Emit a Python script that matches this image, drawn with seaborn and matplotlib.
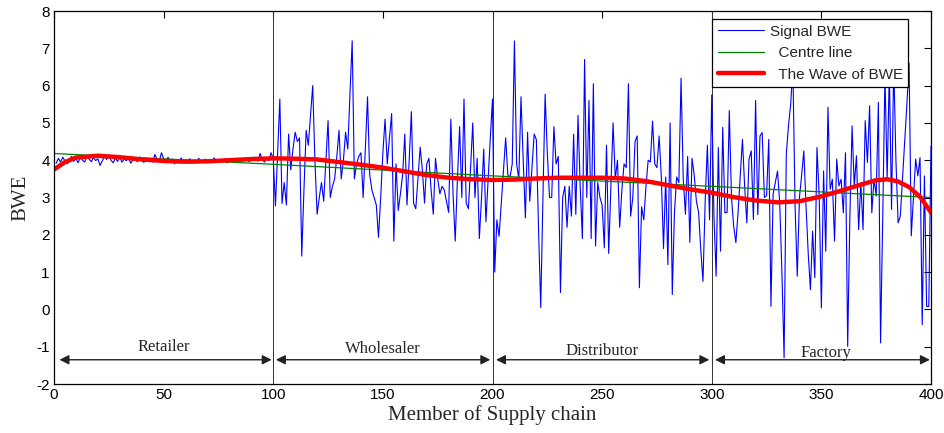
import numpy as np
import pandas as pd
import matplotlib
matplotlib.use("Agg")
import matplotlib.pyplot as plt
import seaborn as sns

# ---------------- data ----------------
sig_retailer = [3.92,4.05,3.95,4.08,3.98,3.90,4.02,4.10,3.97,4.05,
                3.93,4.08,4.00,3.95,4.12,4.03,3.96,4.07,3.99,4.04,
                3.86,3.98,4.10,4.02,4.15,4.00,3.93,4.05,3.97,4.08,
                3.95,4.03,3.99,4.06,3.92,4.01,4.04,3.96,4.09,4.00,
                3.94,4.05,3.98,4.02,3.95,4.15,4.03,3.97,4.20,4.05,
                3.93,4.08,3.98,4.03,3.90,4.02,3.97,4.06,3.95,4.01,
                3.99,4.04,3.92,4.00,3.96,4.05,3.98,3.94,4.03,3.97,
                4.00,3.93,4.06,3.99,3.95,4.02,3.97,4.04,3.93,3.99,
                4.03,3.96,4.00,4.05,3.94,4.02,3.98,4.07,3.96,4.03,
                4.00,4.08,3.97,4.18,4.02,3.95,4.05,3.99,4.20,4.05]
sig_wholesaler = [2.77,4.2,5.64,2.84,3.4,2.8,4.7,3.74,4.3,4.75,
                  4.5,4.6,1.43,3.2,4.8,4.4,5.2,6.0,4.0,2.55,
                  3.0,3.4,2.9,4.0,5.06,3.0,3.3,3.5,4.1,4.8,
                  3.5,4.0,4.75,4.3,5.8,7.2,3.5,3.9,4.1,4.2,
                  3.0,4.3,5.7,3.6,3.2,3.0,2.8,1.93,3.0,4.2,
                  5.1,3.9,4.6,5.25,1.83,3.9,2.65,3.1,3.6,4.7,
                  2.8,4.0,5.3,2.85,2.7,3.5,4.35,3.75,2.85,3.9,
                  4.05,3.2,2.55,4.05,3.5,3.1,3.3,3.2,2.9,2.6,
                  5.1,3.1,1.83,3.5,4.9,3.0,5.64,2.85,2.7,3.8,
                  5.0,3.0,4.05,1.9,3.0,4.3,2.35,3.5,4.6,5.64]
sig_distributor = [1.0,2.4,1.96,2.85,3.7,4.6,3.6,3.55,3.9,7.2,
                   3.9,3.5,5.7,4.0,2.45,4.75,2.9,3.8,4.7,4.55,
                   2.15,0.05,3.0,5.77,4.2,3.0,3.0,4.9,3.9,4.1,
                   0.45,3.0,3.3,2.2,3.3,2.5,4.7,2.55,5.2,3.3,
                   1.9,6.7,3.0,5.6,1.9,6.05,1.7,3.4,3.0,2.8,
                   1.65,4.4,1.5,3.3,5.0,3.5,4.0,2.2,3.2,3.9,
                   3.8,6.05,2.5,3.0,4.5,4.65,0.58,2.75,2.4,3.3,
                   4.0,3.95,5.05,3.9,3.8,4.65,3.55,1.63,3.55,1.2,
                   5.0,0.4,2.6,3.55,3.4,6.2,3.5,2.55,4.1,1.8,
                   4.05,3.6,2.9,2.6,1.6,0.75,2.9,4.4,2.4,5.75]
sig_factory = [2.5,0.89,4.34,1.56,4.88,2.59,2.6,5.33,3.0,2.23,
               1.79,2.6,3.6,4.56,3.3,2.32,4.03,4.25,2.41,5.6,
               2.54,4.65,4.74,3.0,3.05,4.56,0.08,3.1,3.4,3.71,
               2.86,1.0,-1.3,4.16,4.92,5.5,6.5,2.77,0.89,3.0,
               3.6,4.25,2.77,1.5,0.53,2.1,0.85,4.34,3.04,0.04,
               3.71,1.56,5.42,3.22,3.49,1.83,4.03,3.31,3.49,2.59,
               4.2,-0.99,2.5,4.92,3.31,4.12,2.14,3.4,2.14,5.06,
               3.94,5.46,2.59,3.5,3.04,5.55,-0.9,2.5,6.3,3.49,
               6.4,2.68,6.6,4.0,2.32,2.5,3.5,4.47,5.5,6.6,
               1.97,3.0,4.03,3.58,4.07,-0.41,3.58,0.08,0.08,4.38]

centre_x = [0, 100, 200, 300, 400]
centre_y = [4.18, 3.89, 3.58, 3.30, 3.00]

wave_x = [0, 5, 10, 20, 30, 40, 50, 60, 70, 80, 90, 100, 110, 120, 130, 140,
          150, 160, 170, 180, 190, 200, 210, 220, 230, 240, 250, 260, 270,
          280, 290, 300, 310, 320, 330, 340, 350, 360, 370, 375, 380, 385,
          390, 395, 400]
wave_y = [3.75, 3.95, 4.07, 4.12, 4.08, 4.02, 3.98, 3.96, 3.97, 4.00, 4.03,
          4.05, 4.04, 4.02, 3.95, 3.88, 3.80, 3.70, 3.60, 3.53, 3.49, 3.47,
          3.48, 3.51, 3.53, 3.53, 3.53, 3.51, 3.44, 3.33, 3.22, 3.13, 3.01,
          2.92, 2.87, 2.90, 3.03, 3.20, 3.38, 3.46, 3.49, 3.43, 3.28, 3.02,
          2.60]

stages = ["Retailer", "Wholesaler", "Distributor", "Factory"]
stage_bounds = [0, 100, 200, 300, 400]

signal = sig_retailer + sig_wholesaler + sig_distributor + sig_factory
sig_df = pd.DataFrame({"member": np.arange(1, len(signal) + 1), "bwe": signal})
centre_df = pd.DataFrame({"member": centre_x, "bwe": centre_y})
wave_df = pd.DataFrame({"member": wave_x, "bwe": wave_y})

# ---------------- plot ----------------
sns.set_style("white")
plt.rcParams["font.family"] = ["Liberation Sans", "DejaVu Sans"]
plt.rcParams["axes.unicode_minus"] = False

fig = plt.figure(figsize=(9.45, 4.33), dpi=100)
ax = fig.add_axes([54 / 945, 1 - 384 / 433, (931 - 54) / 945, (384 - 11) / 433])

sns.lineplot(data=sig_df, x="member", y="bwe", ax=ax, color="#0000ff",
             lw=0.8, sort=False, label="Signal BWE")
sns.lineplot(data=centre_df, x="member", y="bwe", ax=ax, color="#008000",
             lw=0.9, sort=False, label="  Centre line")
sns.lineplot(data=wave_df, x="member", y="bwe", ax=ax, color="#ff0000",
             lw=3.2, sort=False, label="  The Wave of BWE")

for b in stage_bounds[1:-1]:
    ax.axvline(b, color="#333333", lw=0.7, zorder=1)

arrow_y = -1.35
arrow_ext = [(2.5, 99.3), (101.2, 199.0), (201.6, 298.9), (301.5, 399.5)]
text_pos = [(50, -1.0), (150, -1.05), (250, -1.12), (352, -1.17)]
for name, (a, b), (tx, ty) in zip(stages, arrow_ext, text_pos):
    ax.annotate("", xy=(b, arrow_y), xytext=(a, arrow_y),
                arrowprops=dict(arrowstyle="<|-|>", color="#222222", lw=1.0,
                                mutation_scale=14, shrinkA=0, shrinkB=0),
                zorder=5)
    ax.text(tx, ty, name, ha="center", va="center", fontsize=12,
            family=["Liberation Serif", "DejaVu Serif"], zorder=6)

ax.set_xlim(0, 400)
ax.set_ylim(-2, 8)
ax.set_xticks(np.arange(0, 401, 50))
ax.set_yticks(np.arange(-2, 9, 1))
ax.tick_params(direction="in", length=5, width=0.8, labelsize=11, pad=3,
               top=True, right=True, colors="black")
for s in ax.spines.values():
    s.set_visible(True)
    s.set_color("black")
    s.set_linewidth(0.9)

ax.set_xlabel("Member of Supply chain", fontsize=15,
              family=["Liberation Serif", "DejaVu Serif"], labelpad=2)
ax.set_ylabel("BWE", fontsize=15,
              family=["Liberation Serif", "DejaVu Serif"], labelpad=4)

leg = ax.legend(loc="upper right", bbox_to_anchor=(0.974, 0.978),
                fontsize=11, frameon=True, fancybox=False, framealpha=1,
                edgecolor="black", handlelength=3.0, handletextpad=0.4,
                borderpad=0.35, labelspacing=0.5, borderaxespad=0)
leg.get_frame().set_linewidth(0.9)

fig.savefig("out.png", dpi=100)
